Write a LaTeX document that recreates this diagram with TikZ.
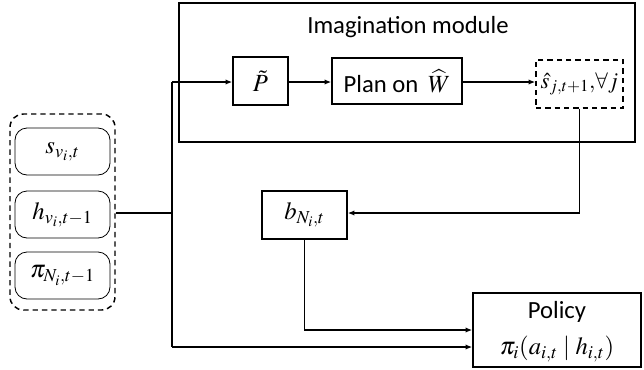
\documentclass[tikz,border=0pt]{standalone}
\usepackage{mathptmx}
\usepackage{fontspec}
\setmainfont{Carlito}
\usetikzlibrary{arrows.meta}
\begin{document}
\begin{tikzpicture}[x=0.75pt,y=-0.75pt,
  font=\fontsize{18.5}{21}\selectfont,
  box/.style={draw,line width=1.1pt,inner sep=0pt,align=center},
  rbox/.style={draw,line width=0.6pt,rounded corners=9pt,inner sep=0pt,minimum width=71.25pt,minimum height=35.25pt},
  dbox/.style={draw,line width=1.1pt,dashed,dash pattern=on 4pt off 3pt,inner sep=0pt},
  conn/.style={line width=1pt},
  arr/.style={conn,-{Latex[length=5pt,width=4pt]}}]
\useasboundingbox (0,0) rectangle (644,369);
% imagination module
\node[box,minimum width=342pt,minimum height=104.25pt] (img) at (407,72.5) {};
\node (title) at (408,27) {Imagination module};
\node[box,minimum width=41.25pt,minimum height=36pt] (P) at (260.5,81) {$\tilde{P}$};
\node[box,minimum width=97.5pt,minimum height=34.5pt] (plan) at (397,81) {Plan on \,$\widehat{W}$};
\node[dbox,minimum width=65.25pt,minimum height=36pt,font=\fontsize{17}{19}\selectfont] (shat) at (579.5,84) {$\hat{s}_{j,t+1},\!\forall j$};
% belief
\node[box,minimum width=63.75pt,minimum height=36pt] (b) at (304.5,215) {$b_{N_i,t}$};
% policy
\node[box,minimum width=126pt,minimum height=55.5pt] (pol) at (557,330) {};
\node (poltitle) at (557,312) {Policy};
\node (polmath) at (557,349) {$\pi_i(a_{i,t}\mid h_{i,t})$};
% input group
\node[dbox,rounded corners=10pt,minimum width=78.75pt,minimum height=147pt] (grp) at (62.5,212) {};
\node[rbox] (s) at (62.5,151.5) {$s_{v_i,t}$};
\node[rbox] (h) at (62.5,214.5) {$h_{v_i,t-1}$};
\node[rbox] (pi) at (62.5,275.5) {$\pi_{N_i,t-1}$};
% connectors
\coordinate (jn) at (172,213);
\coordinate (jtop) at (172,82);
\coordinate (jbot) at (172,347);
\draw[conn] (grp.east |- jn) -- (jn);
\draw[conn] (jtop) -- (jbot);
\draw[arr] (jtop) -- (P.west |- jtop);
\draw[arr] (P.east |- jtop) -- (plan.west |- jtop);
\draw[arr] (plan.east |- jtop) -- (shat.west |- jtop);
\draw[arr] (shat.south) |- (b.east |- 0,213);
\draw[arr] (b.south) |- (pol.west |- 0,330);
\draw[arr] (jbot) -- (pol.west |- jbot);
\end{tikzpicture}
\end{document}
